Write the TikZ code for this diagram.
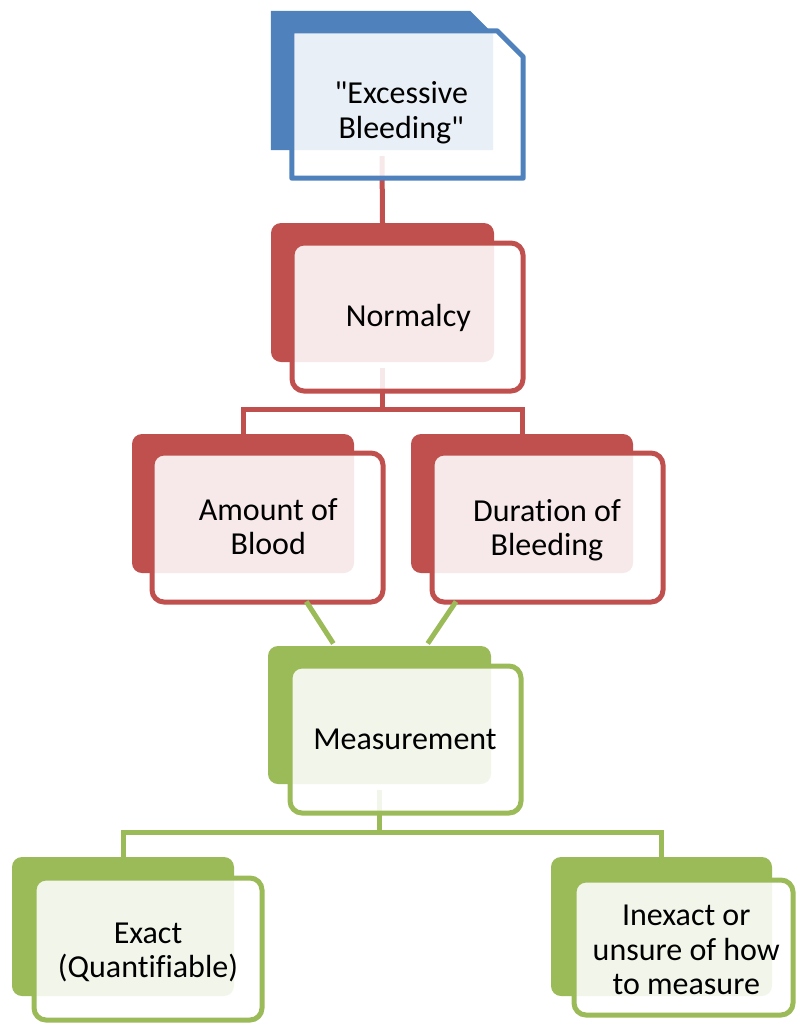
\documentclass[tikz,border=0pt]{standalone}
\usepackage{fontspec}
\setmainfont{Carlito}[Ligatures={TeXOff,NoCommon}]
\usetikzlibrary{calc}
\definecolor{hblue}{HTML}{4F81BD}
\definecolor{hred}{HTML}{C0504D}
\definecolor{hgreen}{HTML}{9BBB59}
\tikzset{
  sz/.style args={#1x#2}{minimum width=#1pt, minimum height=#2pt},
  back/.style={rectangle, inner sep=0pt, draw=none, rounded corners=10pt},
  front/.style={rectangle, inner sep=0pt, rounded corners=12pt, fill=white,
    fill opacity=0.88, draw opacity=1, line width=5pt},
  conn/.style={line width=5pt},
  txt/.style={font=\fontsize{32}{34.5}\selectfont, align=center, inner sep=0pt}
}
\begin{document}
\begin{tikzpicture}[x=1pt, y=-1pt]
\useasboundingbox (0,0) rectangle (796,1023);
\clip (0,0) rectangle (796,1023);

% top level: snipped box
\node[back, sz=222x139] (Eb) at (382,80.5) {};
\fill[hblue] (Eb.south west) -- (Eb.north west) -- ([xshift=-23pt]Eb.north east)
  -- ([yshift=-23pt]Eb.north east) -- (Eb.south east) -- cycle;
\node[back, fill=hred, sz=223x139] (Nb) at (382.5,292.5) {};
\draw[conn, hred] ([yshift=-6pt]Eb.south) -- (Nb.north);
\node[rectangle, inner sep=0pt, sz=231x147] (Ef) at (407.5,104.5) {};
\path[fill=white, fill opacity=0.88, draw=hblue, line width=5pt, line join=round]
  (Ef.south west) -- (Ef.north west) -- ([xshift=-26pt]Ef.north east)
  -- ([yshift=-26pt]Ef.north east) -- (Ef.south east) -- cycle;

% second level
\node[back, fill=hred, sz=222x139] (Ab) at (243,503.5) {};
\node[back, fill=hred, sz=222x139] (Db) at (522,503.5) {};
\coordinate (nsplit) at (382.5,409);
\draw[conn, hred] ([yshift=-6pt]Nb.south) -- (nsplit);
\draw[conn, hred] (Ab.north) |- (nsplit) -| (Db.north);
\node[front, draw=hred, sz=231x148] (Nf) at (407.5,317) {};
\node[front, draw=hred, sz=231x149] (Af) at (267.5,527.5) {};
\node[front, draw=hred, sz=231x149] (Df) at (547.5,527.5) {};

% third level
\coordinate (Mc) at (379.5,715);
\coordinate (afl) at ([yshift=3pt]Af.south west);
\coordinate (afr) at ([yshift=3pt]Af.south east);
\coordinate (dfl) at ([yshift=3pt]Df.south west);
\coordinate (dfr) at ([yshift=3pt]Df.south east);
\coordinate (ga) at (intersection of Ab.center--Mc and afl--afr);
\coordinate (gd) at (intersection of Db.center--Mc and dfl--dfr);
\draw[conn, hgreen] (ga) -- ($(ga)!0.37!(Mc)$);
\draw[conn, hgreen] (gd) -- ($(gd)!0.37!(Mc)$);
\node[back, fill=hgreen, sz=223x138] (Mb) at (Mc) {};

% bottom level
\node[back, fill=hgreen, sz=222x139] (Xb) at (123,926.5) {};
\node[back, fill=hgreen, sz=221x139] (Ib) at (661.5,926.5) {};
\coordinate (msplit) at (379.5,832);
\draw[conn, hgreen] ([yshift=-6pt]Mb.south) -- (msplit);
\draw[conn, hgreen] (Xb.north) |- (msplit) -| (Ib.north);
\node[front, draw=hgreen, sz=231x147] (Mf) at (405.5,739.5) {};
\node[front, draw=hgreen, sz=228x142] (Xf) at (148,949) {};
\node[front, draw=hgreen, sz=219x135] (If) at (683.5,947.5) {};

% labels
\node[txt] (Et) at (401.3,112.5) {"Excessive\\Bleeding"};
\node[txt] (Nt) at (408.3,318) {Normalcy};
\node[txt] (At) at (268.3,526.5) {Amount of\\Blood};
\node[txt] (Dt) at (547,530) {Duration of\\Bleeding};
\node[txt] (Mt) at (405,739.3) {Measurement};
\node[txt] (Xt) at (148,952.5) {Exact\\(Quantifiable)};
\node[txt] (It) at (686.3,950) {Inexact or\\unsure of how\\to measure};
\end{tikzpicture}
\end{document}
